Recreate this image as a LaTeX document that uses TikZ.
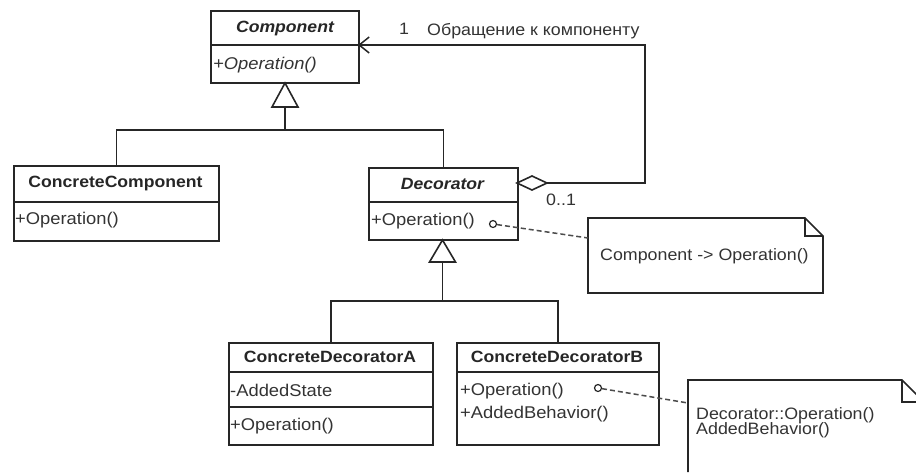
\documentclass[tikz,border=0pt]{standalone}
\usepackage{fontspec}
\setmainfont[FakeStretch=1.08]{Liberation Sans}
\usetikzlibrary{arrows.meta}
\begin{document}
\begin{tikzpicture}[x=1pt,y=-1pt,
  box/.style={draw=black!85,line width=1.8pt,anchor=north west,inner sep=0pt},
  sep/.style={draw=black!85,line width=1.6pt},
  conn/.style={draw=black!85,line width=1.6pt},
  title/.style={font=\fontsize{16.3}{18}\selectfont\bfseries,inner sep=0pt,text=black!85},
  ititle/.style={font=\fontsize{16.3}{18}\selectfont\bfseries\itshape,inner sep=0pt,text=black!85},
  member/.style={font=\fontsize{17}{18}\selectfont,inner sep=0pt,anchor=west,text=black!80},
  lbl/.style={font=\fontsize{16.5}{18}\selectfont,inner sep=0pt,anchor=west,text=black!80},
  gen/.style={draw=black!85,line width=1.6pt,fill=white},
  notebox/.style={draw=black!85,line width=1.6pt},
  lollipop/.style={circle,draw=black!85,line width=1.2pt,minimum size=7pt,inner sep=0pt},
  dashconn/.style={draw=black!70,line width=1.5pt,dash pattern=on 5pt off 3pt}]
\useasboundingbox (0,0) rectangle (916,472);
% Component
\node[box,minimum width=148pt,minimum height=72pt] (comp) at (210,10) {};
\draw[sep] (210,45) -- (358,45);
\node[ititle] (compT) at (285,28) {Component};
\node[member,font=\fontsize{17}{18}\selectfont\itshape] (compOp) at (213,65) {+Operation()};
% ConcreteComponent
\node[box,minimum width=205pt,minimum height=75pt] (cc) at (13,165) {};
\draw[sep] (13,202) -- (218,202);
\node[title] (ccT) at (115.5,183) {ConcreteComponent};
\node[member] (ccOp) at (15,220) {+Operation()};
% Decorator
\node[box,minimum width=149pt,minimum height=72pt] (dec) at (368,167) {};
\draw[sep] (368,202) -- (517,202);
\node[ititle] (decT) at (442.5,184) {Decorator};
\node[member] (decOp) at (371,221) {+Operation()};
\node[lollipop] (c1) at (493,224) {};
% ConcreteDecoratorA
\node[box,minimum width=204pt,minimum height=102pt] (cda) at (228,342) {};
\draw[sep] (228,372) -- (432,372);
\draw[sep] (228,407) -- (432,407);
\node[title] (cdaT) at (330,357) {ConcreteDecoratorA};
\node[member] (cdaAt) at (230,390) {-AddedState};
\node[member] (cdaOp) at (230,426) {+Operation()};
% ConcreteDecoratorB
\node[box,minimum width=202pt,minimum height=102pt] (cdb) at (456,342) {};
\draw[sep] (456,372) -- (658,372);
\node[title] (cdbT) at (557,357) {ConcreteDecoratorB};
\node[member] (cdbOp) at (460,391) {+Operation()};
\node[member] (cdbAb) at (460,414) {+AddedBehavior()};
\node[lollipop] (c2) at (598,388) {};
% generalization 1
\coordinate (t1a) at (285,83);
\coordinate (t1b) at (285,107);
\coordinate (j1) at (285,130);
\draw[gen] (t1a) -- (272,107) -- (298,107) -- cycle;
\draw[conn] (t1b) -- (j1);
\draw[conn] (cc.north) |- (j1) -| (dec.north);
% generalization 2
\coordinate (t2a) at (442.5,240);
\coordinate (t2b) at (442.5,262);
\coordinate (j2) at (442.5,301);
\draw[gen] (t2a) -- (429.5,262) -- (455.5,262) -- cycle;
\draw[conn] (t2b) -- (j2);
\draw[conn] (cda.north) |- (j2) -| (cdb.north);
% aggregation
\coordinate (dtip) at (517,183);
\coordinate (dend) at (547,183);
\coordinate (corner) at (645,183);
\coordinate (ctarget) at (358,45);
\draw[conn,fill=white] (dtip) -- (532,176) -- (dend) -- (532,190) -- cycle;
\draw[conn,-{Straight Barb[length=10pt,width=16pt,line width=1.5pt]}] (dend) -- (corner) |- (ctarget);
\node[lbl] (one) at (399,29) {1};
\node[lbl] (role) at (427,31) {Обращение к компоненту};
\node[lbl] (mult) at (546,200) {0..1};
% note 1
\draw[notebox] (588,218) -- (805,218) -- (823,236) -- (823,293) -- (588,293) -- cycle;
\draw[notebox] (805,218) -- (805,236) -- (823,236);
\coordinate (n1) at (588,238);
\node[lbl] (n1t) at (600,256) {Component -> Operation()};
\draw[dashconn] (c1) -- (n1);
% note 2
\draw[notebox] (688,472) -- (688,380) -- (902,380) -- (924,402);
\draw[notebox] (902,380) -- (902,402) -- (920,402);
\coordinate (n2) at (688,403);
\node[lbl] (n2a) at (696,415) {Decorator::Operation()};
\node[lbl] (n2b) at (696,430) {AddedBehavior()};
\draw[dashconn] (c2) -- (n2);
\end{tikzpicture}
\end{document}
